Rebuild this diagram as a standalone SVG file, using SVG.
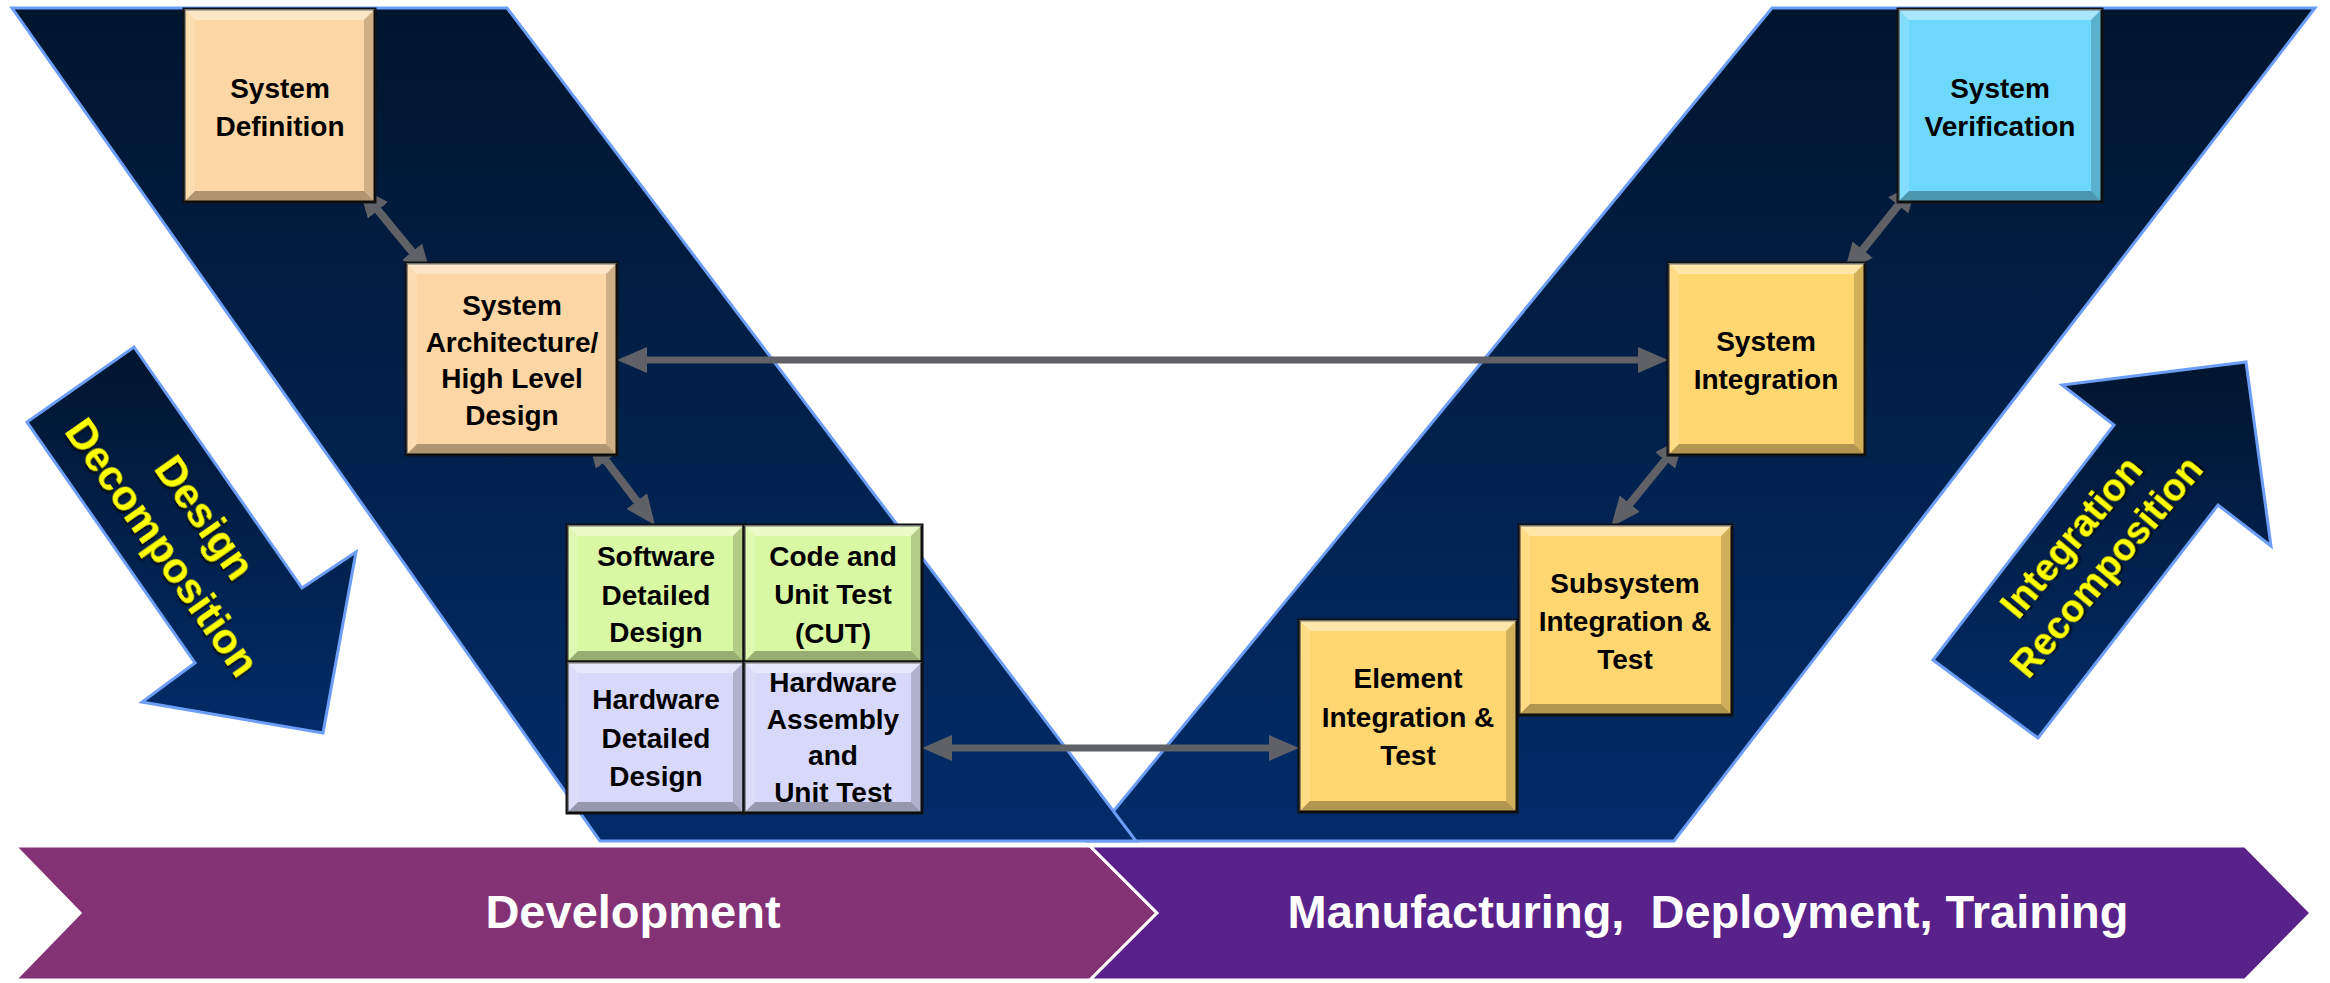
<svg xmlns="http://www.w3.org/2000/svg" width="2330" height="983" viewBox="0 0 2330 983">
  <defs>
    <linearGradient id="bandFill" x1="0" y1="0" x2="0" y2="1">
      <stop offset="0" stop-color="#01152E"/>
      <stop offset="1" stop-color="#022C69"/>
    </linearGradient>
    <marker id="ah" markerUnits="userSpaceOnUse" markerWidth="30" markerHeight="26" viewBox="0 0 30 26" refX="2" refY="13" orient="auto-start-reverse">
      <path d="M0 0 L30 13 L0 26 Z" fill="#5F6167"/>
    </marker>
    <filter id="txtShadow" x="-10%" y="-10%" width="120%" height="130%">
      <feDropShadow dx="2" dy="2" stdDeviation="1" flood-color="#000" flood-opacity="0.7"/>
    </filter>
  </defs>
  <style>
    .band { fill: url(#bandFill); stroke: #6C9EF8; stroke-width: 3; stroke-linejoin: miter; }
    .box { stroke: #111; stroke-width: 3; }
    .peach { fill: #FCD6A4; }
    .gold { fill: #FFD670; }
    .cyan { fill: #6ED8FC; }
    .green { fill: #D9F8A4; }
    .lav { fill: #D8D8FA; }
    .bt { fill: #fff; fill-opacity: 0.4; }
    .bl { fill: #fff; fill-opacity: 0.15; }
    .br { fill: #000; fill-opacity: 0.18; }
    .bb { fill: #000; fill-opacity: 0.3; }
    .lbl { font-family: "Liberation Sans", Arial, sans-serif; font-weight: bold; font-size: 28px; fill: #000; text-anchor: middle; }
    .dir { font-family: "Liberation Sans", Arial, sans-serif; font-weight: bold; fill: #FFFF00; text-anchor: middle; filter: url(#txtShadow); }
    .phase { font-family: "Liberation Sans", Arial, sans-serif; font-weight: bold; font-size: 47px; fill: #fff; text-anchor: middle; }
    .conn { fill: none; stroke: #5F6167; stroke-width: 8; marker-start: url(#ah); marker-end: url(#ah); }
    .conn.flat { stroke-width: 7; }
  </style>

  <!-- V-shaped background bands (right one first, left one overlaps it) -->
  <g id="bands">
    <polygon class="band" points="1772,8 2315,8 1674,841 1089,841"/>
    <polygon class="band" points="12,8 507,8 1136,841 600,841"/>
  </g>

  <!-- Direction arrows -->
  <g id="design-decomposition">
    <polygon class="band" points="134,347 302,588 356,552 323,733 142,702 195,663 27,422"/>
    <g transform="translate(184,532) rotate(55)">
      <text class="dir" font-size="42" x="0" y="-11">Design</text>
      <text class="dir" font-size="42" x="0" y="41">Decomposition</text>
    </g>
  </g>
  <g id="integration-recomposition">
    <polygon class="band" points="1933,660 2038,738 2218,505 2271,546 2246,362 2062,385 2114,425"/>
    <g transform="translate(2089,552) rotate(-50)">
      <text class="dir" font-size="38" x="0" y="-10">Integration</text>
      <text class="dir" font-size="38" x="0" y="36">Recomposition</text>
    </g>
  </g>

  <!-- Phase bar -->
  <g id="phase-development">
    <polygon points="15,846 1090,846 1157,913 1090,980 15,980 80,913" fill="#833275" stroke="#fff" stroke-width="3"/>
    <text class="phase" x="633" y="928">Development</text>
  </g>
  <g id="phase-manufacturing">
    <polygon points="1090,846 2245,846 2311,913 2245,980 1090,980 1157,913" fill="#59218A" stroke="#fff" stroke-width="3"/>
    <text class="phase" x="1708" y="928" xml:space="preserve">Manufacturing,  Deployment, Training</text>
  </g>

  <!-- Connectors -->
  <g id="connectors">
    <line class="conn" x1="376.7" y1="208.7" x2="413.3" y2="253.3"/>
    <line class="conn" x1="605" y1="459.3" x2="638" y2="502.7"/>
    <line class="conn flat" x1="645" y1="360" x2="1640" y2="360"/>
    <line class="conn flat" x1="950" y1="748" x2="1271" y2="748"/>
    <line class="conn" x1="1899.5" y1="203.8" x2="1861.5" y2="251.2"/>
    <line class="conn" x1="1666.4" y1="458.8" x2="1628.6" y2="505.2"/>
  </g>

  <!-- Process boxes -->
  <g id="system-definition">
    <rect class="box peach" x="184" y="9" width="191" height="193"/>
    <path class="bt" d="M184 9 H375 L364 20 H195 Z"/>
    <path class="bl" d="M184 9 L195 20 V191 L184 202 Z"/>
    <path class="br" d="M375 9 V202 L364 191 V20 Z"/>
    <path class="bb" d="M184 202 H375 L364 191 H195 Z"/>
    <text class="lbl" x="280" y="98">System</text>
    <text class="lbl" x="280" y="136">Definition</text>
  </g>

  <g id="system-architecture">
    <rect class="box peach" x="406" y="263" width="211" height="192"/>
    <path class="bt" d="M406 263 H617 L606 274 H417 Z"/>
    <path class="bl" d="M406 263 L417 274 V444 L406 455 Z"/>
    <path class="br" d="M617 263 V455 L606 444 V274 Z"/>
    <path class="bb" d="M406 455 H617 L606 444 H417 Z"/>
    <text class="lbl" x="512" y="315">System</text>
    <text class="lbl" x="512" y="352">Architecture/</text>
    <text class="lbl" x="512" y="388">High Level</text>
    <text class="lbl" x="512" y="425">Design</text>
  </g>

  <g id="software-detailed-design">
    <rect class="box green" x="567" y="525" width="177" height="137"/>
    <path class="bt" d="M567 525 H744 L733 536 H578 Z"/>
    <path class="bl" d="M567 525 L578 536 V651 L567 662 Z"/>
    <path class="br" d="M744 525 V662 L733 651 V536 Z"/>
    <path class="bb" d="M567 662 H744 L733 651 H578 Z"/>
    <text class="lbl" x="656" y="566">Software</text>
    <text class="lbl" x="656" y="605">Detailed</text>
    <text class="lbl" x="656" y="642">Design</text>
  </g>

  <g id="code-unit-test">
    <rect class="box green" x="744" y="525" width="178" height="137"/>
    <path class="bt" d="M744 525 H922 L911 536 H755 Z"/>
    <path class="bl" d="M744 525 L755 536 V651 L744 662 Z"/>
    <path class="br" d="M922 525 V662 L911 651 V536 Z"/>
    <path class="bb" d="M744 662 H922 L911 651 H755 Z"/>
    <text class="lbl" x="833" y="566">Code and</text>
    <text class="lbl" x="833" y="604">Unit Test</text>
    <text class="lbl" x="833" y="643">(CUT)</text>
  </g>

  <g id="hardware-detailed-design">
    <rect class="box lav" x="567" y="662" width="177" height="151"/>
    <path class="bt" d="M567 662 H744 L733 673 H578 Z"/>
    <path class="bl" d="M567 662 L578 673 V802 L567 813 Z"/>
    <path class="br" d="M744 662 V813 L733 802 V673 Z"/>
    <path class="bb" d="M567 813 H744 L733 802 H578 Z"/>
    <text class="lbl" x="656" y="709">Hardware</text>
    <text class="lbl" x="656" y="748">Detailed</text>
    <text class="lbl" x="656" y="786">Design</text>
  </g>

  <g id="hardware-assembly-unit-test">
    <rect class="box lav" x="744" y="662" width="178" height="151"/>
    <path class="bt" d="M744 662 H922 L911 673 H755 Z"/>
    <path class="bl" d="M744 662 L755 673 V802 L744 813 Z"/>
    <path class="br" d="M922 662 V813 L911 802 V673 Z"/>
    <path class="bb" d="M744 813 H922 L911 802 H755 Z"/>
    <text class="lbl" x="833" y="692">Hardware</text>
    <text class="lbl" x="833" y="729">Assembly</text>
    <text class="lbl" x="833" y="765">and</text>
    <text class="lbl" x="833" y="802">Unit Test</text>
  </g>

  <g id="element-integration-test">
    <rect class="box gold" x="1299" y="620" width="218" height="192"/>
    <path class="bt" d="M1299 620 H1517 L1506 631 H1310 Z"/>
    <path class="bl" d="M1299 620 L1310 631 V801 L1299 812 Z"/>
    <path class="br" d="M1517 620 V812 L1506 801 V631 Z"/>
    <path class="bb" d="M1299 812 H1517 L1506 801 H1310 Z"/>
    <text class="lbl" x="1408" y="688">Element</text>
    <text class="lbl" x="1408" y="727">Integration &amp;</text>
    <text class="lbl" x="1408" y="765">Test</text>
  </g>

  <g id="subsystem-integration-test">
    <rect class="box gold" x="1519" y="525" width="213" height="190"/>
    <path class="bt" d="M1519 525 H1732 L1721 536 H1530 Z"/>
    <path class="bl" d="M1519 525 L1530 536 V704 L1519 715 Z"/>
    <path class="br" d="M1732 525 V715 L1721 704 V536 Z"/>
    <path class="bb" d="M1519 715 H1732 L1721 704 H1530 Z"/>
    <text class="lbl" x="1625" y="593">Subsystem</text>
    <text class="lbl" x="1625" y="631">Integration &amp;</text>
    <text class="lbl" x="1625" y="669">Test</text>
  </g>

  <g id="system-integration">
    <rect class="box gold" x="1668" y="263" width="197" height="192"/>
    <path class="bt" d="M1668 263 H1865 L1854 274 H1679 Z"/>
    <path class="bl" d="M1668 263 L1679 274 V444 L1668 455 Z"/>
    <path class="br" d="M1865 263 V455 L1854 444 V274 Z"/>
    <path class="bb" d="M1668 455 H1865 L1854 444 H1679 Z"/>
    <text class="lbl" x="1766" y="351">System</text>
    <text class="lbl" x="1766" y="389">Integration</text>
  </g>

  <g id="system-verification">
    <rect class="box cyan" x="1898" y="9" width="204" height="193"/>
    <path class="bt" d="M1898 9 H2102 L2091 20 H1909 Z"/>
    <path class="bl" d="M1898 9 L1909 20 V191 L1898 202 Z"/>
    <path class="br" d="M2102 9 V202 L2091 191 V20 Z"/>
    <path class="bb" d="M1898 202 H2102 L2091 191 H1909 Z"/>
    <text class="lbl" x="2000" y="98">System</text>
    <text class="lbl" x="2000" y="136">Verification</text>
  </g>
</svg>
